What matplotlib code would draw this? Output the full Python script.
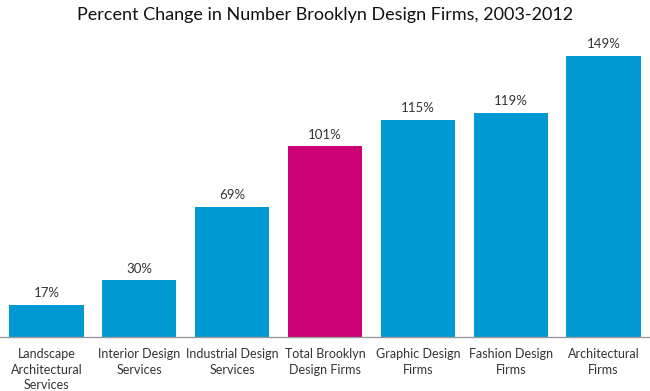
import matplotlib.pyplot as plt

plt.rcParams['font.family'] = ['Lato', 'DejaVu Sans']

categories = [
    "Landscape\nArchitectural\nServices",
    "Interior Design\nServices",
    "Industrial Design\nServices",
    "Total Brooklyn\nDesign Firms",
    "Graphic Design\nFirms",
    "Fashion Design\nFirms",
    "Architectural\nFirms",
]
values = [17, 30, 69, 101, 115, 119, 149]
highlight = "Total Brooklyn\nDesign Firms"

blue = "#0099d4"
magenta = "#cc0077"
colors = [magenta if c == highlight else blue for c in categories]

fig = plt.figure(figsize=(6.5, 3.91), dpi=100)
ax = fig.add_axes([0, 0.138, 1, 0.772])

x = range(len(categories))
bars = ax.bar(x, values, width=0.8, color=colors)
for b, v in zip(bars, values):
    ax.text(b.get_x() + b.get_width() / 2, v + 3, f"{v}%",
            ha="center", va="bottom", fontsize=9.5, color="#333333")

ax.set_xlim(-0.5, 6.5)
ax.set_ylim(0, 160)
ax.set_xticks(list(x))
ax.set_xticklabels(categories, fontsize=9, color="#333333", linespacing=1.35)
ax.tick_params(axis="x", length=0, pad=8)
ax.set_yticks([])
for s in ["top", "right", "left"]:
    ax.spines[s].set_visible(False)
ax.spines["bottom"].set_color("#999999")
ax.spines["bottom"].set_linewidth(1)

fig.text(0.5, 0.962, "Percent Change in Number Brooklyn Design Firms, 2003-2012",
         ha="center", va="center", fontsize=13, color="#111111")

fig.savefig("out.png", dpi=100)
